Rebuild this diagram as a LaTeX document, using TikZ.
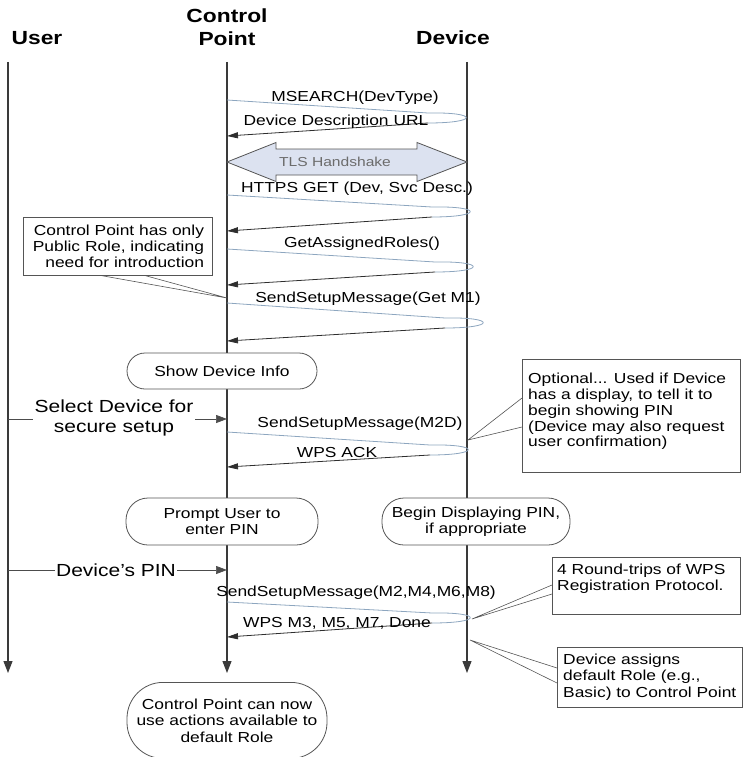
\documentclass[tikz,border=0pt]{standalone}
\usepackage{fontspec}
\setmainfont{Liberation Sans}[FakeStretch=1.2]
\usetikzlibrary{arrows.meta}

\definecolor{lifeln}{HTML}{3A3A3A}
\definecolor{outln}{HTML}{8DA6BF}
\definecolor{backln}{HTML}{2E2E2E}
\definecolor{boxln}{HTML}{555555}
\definecolor{tlsfill}{HTML}{DCE2F0}

\tikzset{
  lifeline/.style={draw=lifeln, line width=1.1pt, -{Triangle[length=12pt,width=9pt]}},
  hdr/.style={font=\bfseries\fontsize{19}{23}\selectfont, align=center, inner sep=0pt},
  lbl/.style={font=\fontsize{14.5}{16}\selectfont, inner sep=0pt},
  ulbl/.style={font=\fontsize{17.5}{20}\selectfont, align=center, fill=white, inner sep=1.5pt},
  outleg/.style={draw=outln, line width=0.8pt},
  backleg/.style={draw=backln, line width=0.8pt, -{Triangle[length=11pt,width=6pt]}},
  usermsg/.style={draw=gray!60!black, line width=0.7pt, -{Triangle[length=11pt,width=8pt]}},
  notebox/.style={draw=boxln, line width=0.8pt, fill=white},
  notetext/.style={font=\fontsize{14.5}{15.8}\selectfont, inner sep=0pt, align=left},
  term/.style={draw=boxln, line width=0.8pt, fill=white, align=center, inner sep=0pt,
               font=\fontsize{14.5}{16.5}\selectfont},
  wedge/.style={draw=boxln, line width=0.6pt},
}

% request/response pair between the control point and the device:
% #1 name, #2 start y, #3 x of the turn, #4 y of the turn, #5 end y
\newcommand\roundtrip[5]{%
  \coordinate (#1s) at (227,#2);
  \coordinate (#1a) at ({#3-45},{#4-5});
  \coordinate (#1b) at ({#3-45},{#4+5});
  \coordinate (#1e) at (227,#5);
  \draw[outleg] (#1s) -- (#1a) .. controls ({#3+6},{#4-6}) and ({#3+6},{#4+5}) .. (#1b);
  \draw[backleg] (#1b) -- (#1e);
}

\begin{document}
\begin{tikzpicture}[x=1pt, y=-1pt]
\clip (0,0) rectangle (750,757);

% column headers
\node[hdr] (huser) at (37,38) {User};
\node[hdr] (hcp) at (227,27) {Control\\Point};
\node[hdr] (hdev) at (453,38) {Device};

% lifelines
\coordinate (uTop) at (8,62);   \coordinate (uBot) at (8,673);
\coordinate (cTop) at (227,62); \coordinate (cBot) at (227,673);
\coordinate (dTop) at (467,62); \coordinate (dBot) at (467,673);
\draw[lifeline] (uTop) -- (uBot);
\draw[lifeline] (cTop) -- (cBot);
\draw[lifeline] (dTop) -- (dBot);

% discovery
\roundtrip{m1}{100}{473}{118}{136}
\node[lbl] (l1) at (355,98) {MSEARCH(DevType)};
\node[lbl] (l2) at (336,122) {Device Description URL};

% TLS handshake
\path[draw=boxln, fill=tlsfill, line width=0.8pt]
  (227,162) -- (276,142.5) -- (276,149) -- (417,149) -- (417,142.5) -- (467,162)
  -- (417,181.5) -- (417,175) -- (276,175) -- (276,181.5) -- cycle;
\node[font=\fontsize{13}{13}\selectfont, text=gray!85!black, inner sep=0pt] (tls) at (335,162) {TLS Handshake};

% descriptions and roles
\roundtrip{m2}{195}{477}{212}{231}
\node[lbl] (l3) at (357,189) {HTTPS GET (Dev, Svc Desc.)};
\roundtrip{m3}{249}{480}{267}{285}
\node[lbl] (l4) at (362,244) {GetAssignedRoles()};
\roundtrip{m4}{303}{490}{323}{341}
\node[lbl] (l5) at (368,299) {SendSetupMessage(Get M1)};

% note on the public role
\coordinate (w1a) at (98,275); \coordinate (w1b) at (143,275); \coordinate (w1t) at (227,298);
\draw[wedge] (w1a) -- (w1t) -- (w1b);
\node[notebox, font=\fontsize{14.5}{16}\selectfont, minimum width=189pt, minimum height=58pt,
      text width=173pt, align=right, inner sep=0pt] (pubnote) at (117.5,246)
  {Control Point has only\\Public Role, indicating\\need for introduction};

\node[term, minimum width=190pt, minimum height=36pt, rounded corners=18pt] (show) at (222,371) {Show Device Info};

% user selects the device
\coordinate (sel0) at (8,419); \coordinate (sel1) at (227,419);
\draw[usermsg] (sel0) -- (sel1);
\node[ulbl] (sel) at (114,418) {Select Device for\\secure setup};

\roundtrip{m5}{432}{475}{450}{467}
\node[lbl] (l6) at (360,424) {SendSetupMessage(M2D)};
\node[lbl] (l7) at (337,453) {WPS ACK};

% optional display note
\coordinate (w2a) at (522,398); \coordinate (w2b) at (522,427); \coordinate (w2t) at (468,440);
\draw[wedge] (w2a) -- (w2t) -- (w2b);
\node[notebox, minimum width=218pt, minimum height=113pt, anchor=north west] (optbox) at (522,359) {};
\node[notetext, anchor=north west] (opttext) at (528,373)
  {Optional... Used if Device\\has a display, to tell it to\\begin showing PIN\\(Device may also request\\user confirmation)};

% PIN entry
\node[term, minimum width=192pt, minimum height=47pt, rounded corners=22pt] (prompt) at (222,521.5) {Prompt User to\\enter PIN};
\node[term, minimum width=188pt, minimum height=47pt, rounded corners=22pt] (display) at (476,521.5) {Begin Displaying PIN,\\if appropriate};

\coordinate (pin0) at (8,570); \coordinate (pin1) at (227,570);
\draw[usermsg] (pin0) -- (pin1);
\node[ulbl] (pin) at (116,570) {Device’s PIN};

% registration protocol
\roundtrip{m6}{602}{477}{618}{637}
\node[lbl] (l8) at (356,593) {SendSetupMessage(M2,M4,M6,M8)};
\node[lbl] (l9) at (337,623) {WPS M3, M5, M7, Done};

\coordinate (w3a) at (552,585); \coordinate (w3b) at (552,594); \coordinate (w3t) at (472,619);
\draw[wedge] (w3a) -- (w3t) -- (w3b);
\node[notebox, minimum width=188pt, minimum height=57pt, anchor=north west] (rtbox) at (552,557) {};
\node[notetext, font=\fontsize{14.5}{16}\selectfont, anchor=north west] (rttext) at (557,563.5)
  {4 Round-trips of WPS\\Registration Protocol.};

\coordinate (w4a) at (557,668); \coordinate (w4b) at (557,683); \coordinate (w4t) at (470,640);
\draw[wedge] (w4a) -- (w4t) -- (w4b);
\node[notebox, minimum width=185pt, minimum height=60pt, anchor=north west] (rolebox) at (557,647) {};
\node[notetext, font=\fontsize{14.5}{16.5}\selectfont, anchor=west] (roletext) at (563,677)
  {Device assigns\\default Role (e.g.,\\Basic) to Control Point};

% outcome
\node[term, minimum width=200pt, minimum height=76pt, rounded corners=36pt, anchor=north] (final) at (227,682)
  {Control Point can now\\use actions available to\\default Role};
\end{tikzpicture}
\end{document}
